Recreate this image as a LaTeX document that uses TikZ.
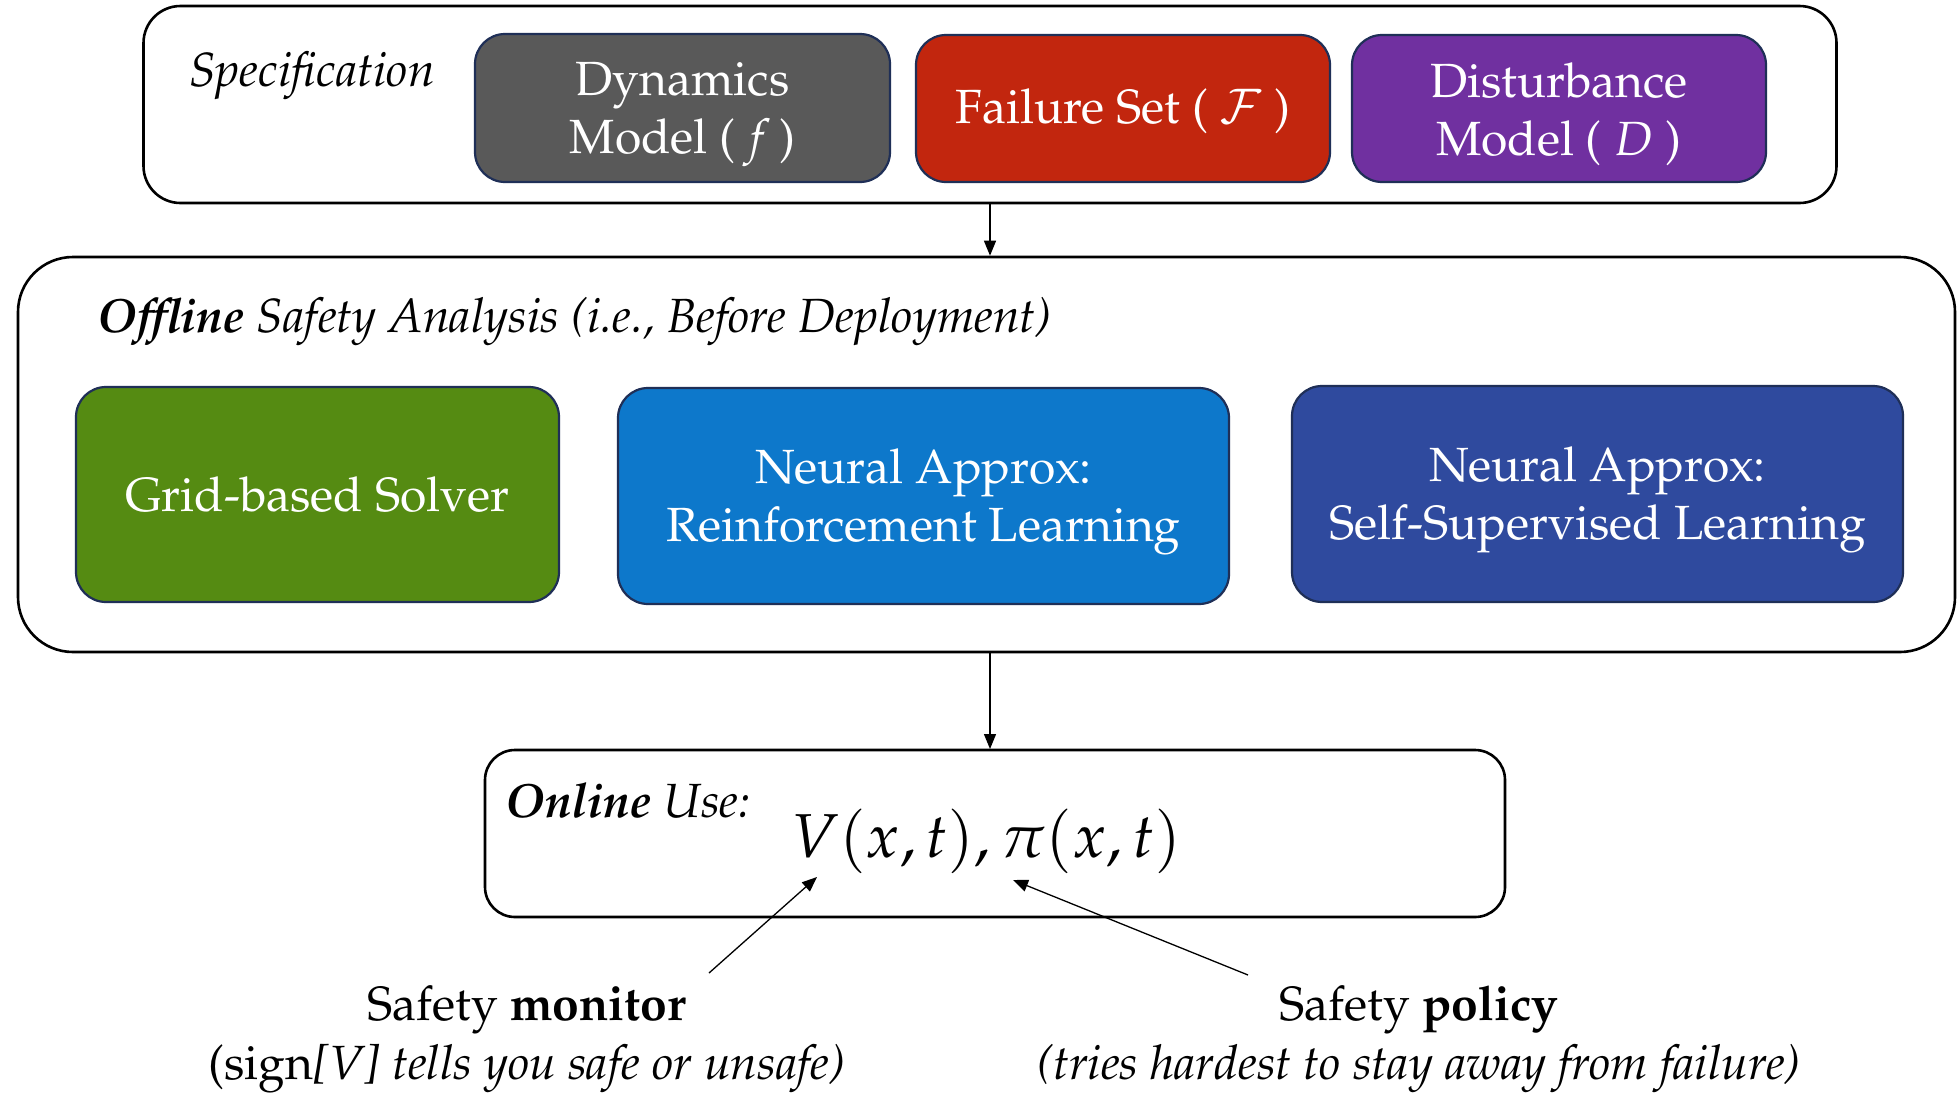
\documentclass[tikz,border=0pt]{standalone}
\usepackage[T1]{fontenc}
\usepackage{mathpazo}
\usetikzlibrary{arrows.meta}
\definecolor{navyb}{HTML}{1F2F57}
\definecolor{cgray}{HTML}{595959}
\definecolor{cred}{HTML}{C2260E}
\definecolor{cpurple}{HTML}{7030A0}
\definecolor{cgreen}{HTML}{558B12}
\definecolor{cblue}{HTML}{0D78CB}
\definecolor{cdblue}{HTML}{2F4A9E}
\tikzset{
  outerbox/.style={draw=black, line width=2.6pt, fill=white},
  colbox/.style={draw=navyb, line width=2.2pt, rounded corners=30pt, inner sep=0pt},
  boxtext/.style={text=white, align=center, inner sep=0pt, font=\fontsize{48}{58}\selectfont},
  lbl/.style={font=\fontsize{48}{58}\selectfont},
  conn/.style={line width=1.3pt, -{Triangle[length=15pt,width=12pt]}},
}
\begin{document}
\begin{tikzpicture}[x=1pt,y=-1pt]
\useasboundingbox (0,0) rectangle (1957,1093);
% Specification
\node[outerbox, rounded corners=37pt, minimum width=1693pt, minimum height=197pt] (spec) at (990,104.5) {};
\node[lbl, font=\fontsize{48}{58}\selectfont\itshape] (spectxt) at (312,76) {Specification};
\node[colbox, fill=cgray, minimum width=415pt, minimum height=148pt] (dyn) at (682.5,108) {};
\node[boxtext] (dyntxt) at ([yshift=-6pt]dyn.center) {Dynamics\\Model (\,$f$\,)};
\node[colbox, fill=cred, minimum width=414pt, minimum height=147pt] (fail) at (1123,108.5) {};
\node[boxtext] (failtxt) at ([yshift=-3pt]fail.center) {Failure Set ( $\mathcal{F}$ )};
\node[colbox, fill=cpurple, minimum width=414pt, minimum height=147pt] (dist) at (1559,108.5) {};
\node[boxtext] (disttxt) at ([yshift=-6pt]dist.center) {Disturbance\\Model ( $D$ )};
% Offline
\node[outerbox, rounded corners=55pt, minimum width=1937pt, minimum height=395pt] (off) at (986.5,454.5) {};
\node[anchor=west, inner sep=0pt, font=\fontsize{48}{58}\selectfont\itshape] (offtxt) at (97,322) {\textbf{Offline} Safety Analysis (i.e., Before Deployment)};
\node[colbox, fill=cgreen, minimum width=483pt, minimum height=215pt] (grid) at (317.5,494.5) {};
\node[boxtext] (gridtxt) at ([yshift=0pt]grid.center) {Grid-based Solver};
\node[colbox, fill=cblue, minimum width=611pt, minimum height=216pt] (rl) at (923.5,496) {};
\node[boxtext] (rltxt) at ([yshift=-6pt]rl.center) {Neural Approx:\\Reinforcement Learning};
\node[colbox, fill=cdblue, minimum width=611pt, minimum height=216pt] (ssl) at (1597.5,494) {};
\node[boxtext] (ssltxt) at ([yshift=-6pt]ssl.center) {Neural Approx:\\Self-Supervised Learning};
% Online
\node[outerbox, rounded corners=30pt, minimum width=1020pt, minimum height=167pt] (on) at (995,833.5) {};
\node[anchor=west, inner sep=0pt, font=\fontsize{48}{58}\selectfont\itshape] (ontxt) at (505,801) {\textbf{Online} Use:};
\node[font=\fontsize{62}{74}\selectfont] (vf) at (986,841) {$V(x,t),\pi(x,t)$};
% Labels
\node[lbl] (mon) at (527,1010) {Safety \textbf{monitor}};
\node[lbl] (monsub) at (527,1069) {(sign\textit{[V] tells you safe or unsafe)}};
\node[lbl] (pol) at (1419,1010) {Safety \textbf{policy}};
\node[lbl, font=\fontsize{48}{58}\selectfont\itshape] (polsub) at (1419,1069) {(tries hardest to stay away from failure)};
% connectors
\coordinate (a1) at (990,652);
\coordinate (a2) at (990,749);
\draw[conn] (spec.south) -- (spec.south |- off.north);
\draw[conn] (a1) -- (a2);
\coordinate (m1) at (709,973);
\coordinate (m2) at (817,877);
\coordinate (p1) at (1248,975);
\coordinate (p2) at (1013,880);
\draw[conn] (m1) -- (m2);
\draw[conn] (p1) -- (p2);
\end{tikzpicture}
\end{document}
